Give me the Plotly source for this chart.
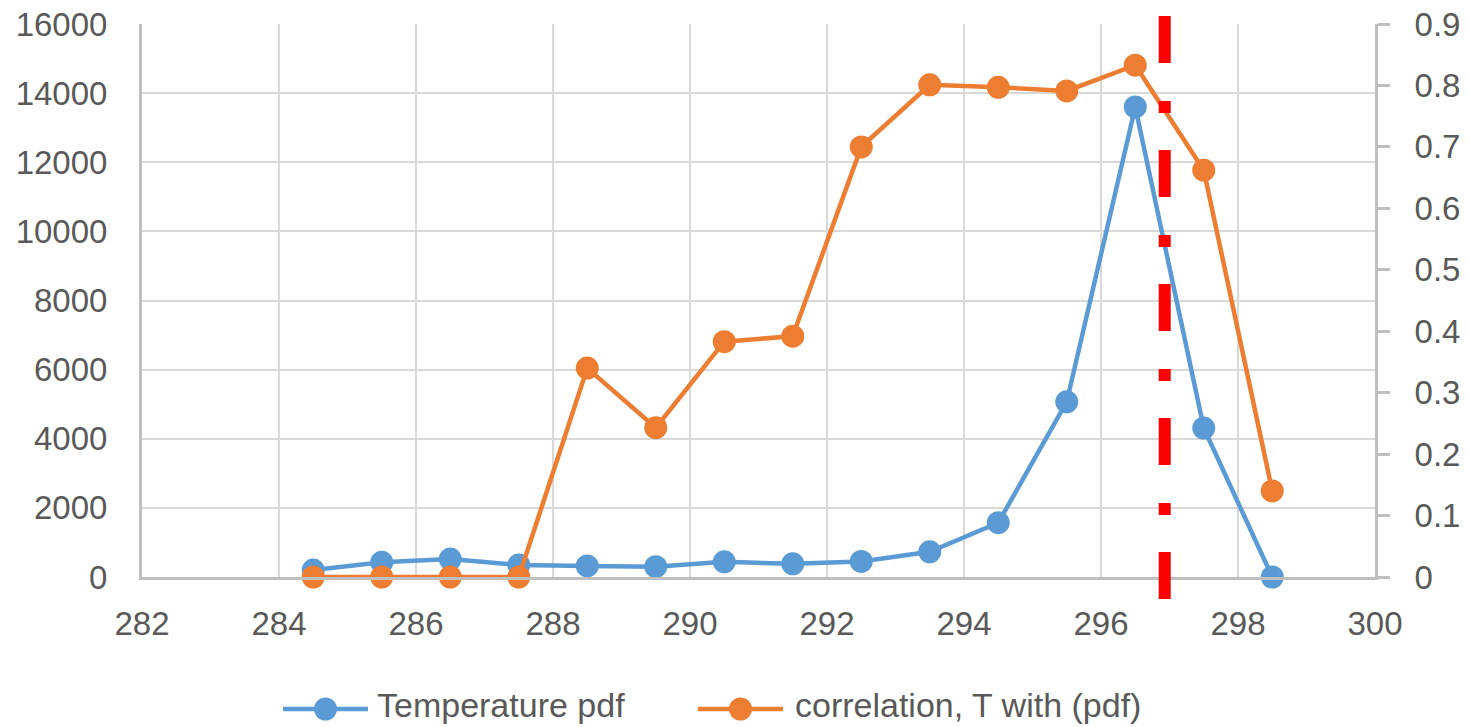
import plotly.graph_objects as go

# Temperature bins (K)
temperature = [284.5, 285.5, 286.5, 287.5, 288.5, 289.5, 290.5, 291.5,
               292.5, 293.5, 294.5, 295.5, 296.5, 297.5, 298.5]
# Probability density of temperature (left axis)
pdf_values = [200, 430, 520, 350, 320, 300, 440, 380,
              450, 730, 1570, 5070, 13600, 4310, 0]
# Correlation of T with pdf (right axis)
correlation = [0.0, 0.0, 0.0, 0.0, 0.34, 0.243, 0.383, 0.392,
               0.700, 0.801, 0.797, 0.791, 0.833, 0.662, 0.140]
# Marker for the reference temperature
threshold_T = 296.93

series_names = ["Temperature pdf", "correlation, T with (pdf)"]

x_ticks = list(range(282, 301, 2))
left_ticks = list(range(0, 16001, 2000))
right_ticks = [round(0.1 * i, 1) for i in range(10)]

BLUE = "#5B9BD5"
ORANGE = "#ED7D31"
GRID = "#D9D9D9"
AXIS = "#BFBFBF"
TEXT = "#595959"
FONT = "Liberation Sans"
TICK_SIZE = 33

fig = go.Figure()
fig.add_trace(go.Scatter(
    x=temperature, y=pdf_values, name=series_names[0],
    mode="lines+markers", cliponaxis=False,
    line=dict(color=BLUE, width=4.5),
    marker=dict(color=BLUE, size=23),
    yaxis="y",
))
fig.add_trace(go.Scatter(
    x=temperature, y=correlation, name=series_names[1],
    mode="lines+markers", cliponaxis=False,
    line=dict(color=ORANGE, width=4.5),
    marker=dict(color=ORANGE, size=23),
    yaxis="y2",
))

# Vertical dash-dot line extending slightly beyond the plot area
fig.add_shape(
    type="line", xref="x", yref="paper",
    x0=threshold_T, x1=threshold_T, y0=-0.040, y1=1.0145,
    line=dict(color="#FF0000", width=12, dash="47px,37px,12px,38px"),
    layer="above",
)

# Legend below the chart: long line symbol with a dot in the middle
legend_y = -0.2387
legend_text_y = -0.2315
legend_items = [
    (series_names[0], BLUE, 0.1144, 0.1833, 0.1890),
    (series_names[1], ORANGE, 0.4509, 0.5199, 0.5280),
]
for name, color, lx0, lx1, tx in legend_items:
    fig.add_shape(type="line", xref="paper", yref="paper",
                  x0=lx0, x1=lx1, y0=legend_y, y1=legend_y,
                  line=dict(color=color, width=4.5))
    cx = (lx0 + lx1) / 2
    fig.add_shape(type="circle", xref="paper", yref="paper",
                  xsizemode="pixel", ysizemode="pixel",
                  xanchor=cx, yanchor=legend_y,
                  x0=-11.5, x1=11.5, y0=-11.5, y1=11.5,
                  fillcolor=color, line=dict(width=0))
    fig.add_annotation(text=name, xref="paper", yref="paper",
                       x=tx, y=legend_text_y, xanchor="left", yanchor="middle",
                       showarrow=False,
                       font=dict(family=FONT, size=34, color=TEXT))

fig.update_layout(
    width=1470, height=727,
    margin=dict(l=142, r=95, t=24, b=150, autoexpand=False),
    paper_bgcolor="white", plot_bgcolor="white",
    font=dict(family=FONT, size=TICK_SIZE, color=TEXT),
    showlegend=False,
    xaxis=dict(
        range=[282, 300], tickvals=x_ticks, ticktext=[str(t) for t in x_ticks],
        showgrid=True, gridcolor=GRID, gridwidth=2,
        showline=True, linecolor=AXIS, linewidth=3,
        ticks="", zeroline=False, ticklabelstandoff=15, automargin=False,
        tickfont=dict(family=FONT, size=TICK_SIZE, color=TEXT),
    ),
    yaxis=dict(
        range=[0, 16000], tickvals=left_ticks, ticktext=[str(t) for t in left_ticks],
        showgrid=True, gridcolor=GRID, gridwidth=2,
        showline=True, linecolor=AXIS, linewidth=3,
        ticks="", zeroline=False, ticklabelstandoff=25, automargin=False,
        tickfont=dict(family=FONT, size=TICK_SIZE, color=TEXT),
    ),
    yaxis2=dict(
        range=[0, 0.9], tickvals=right_ticks,
        ticktext=[("0" if t == 0 else str(t)) for t in right_ticks],
        overlaying="y", side="right",
        showgrid=False, showline=True, linecolor=AXIS, linewidth=3,
        ticks="outside", ticklen=12, tickwidth=3, tickcolor=AXIS,
        zeroline=False, ticklabelstandoff=18, automargin=False,
        tickfont=dict(family=FONT, size=TICK_SIZE, color=TEXT),
    ),
)

fig.write_html("out.html")
